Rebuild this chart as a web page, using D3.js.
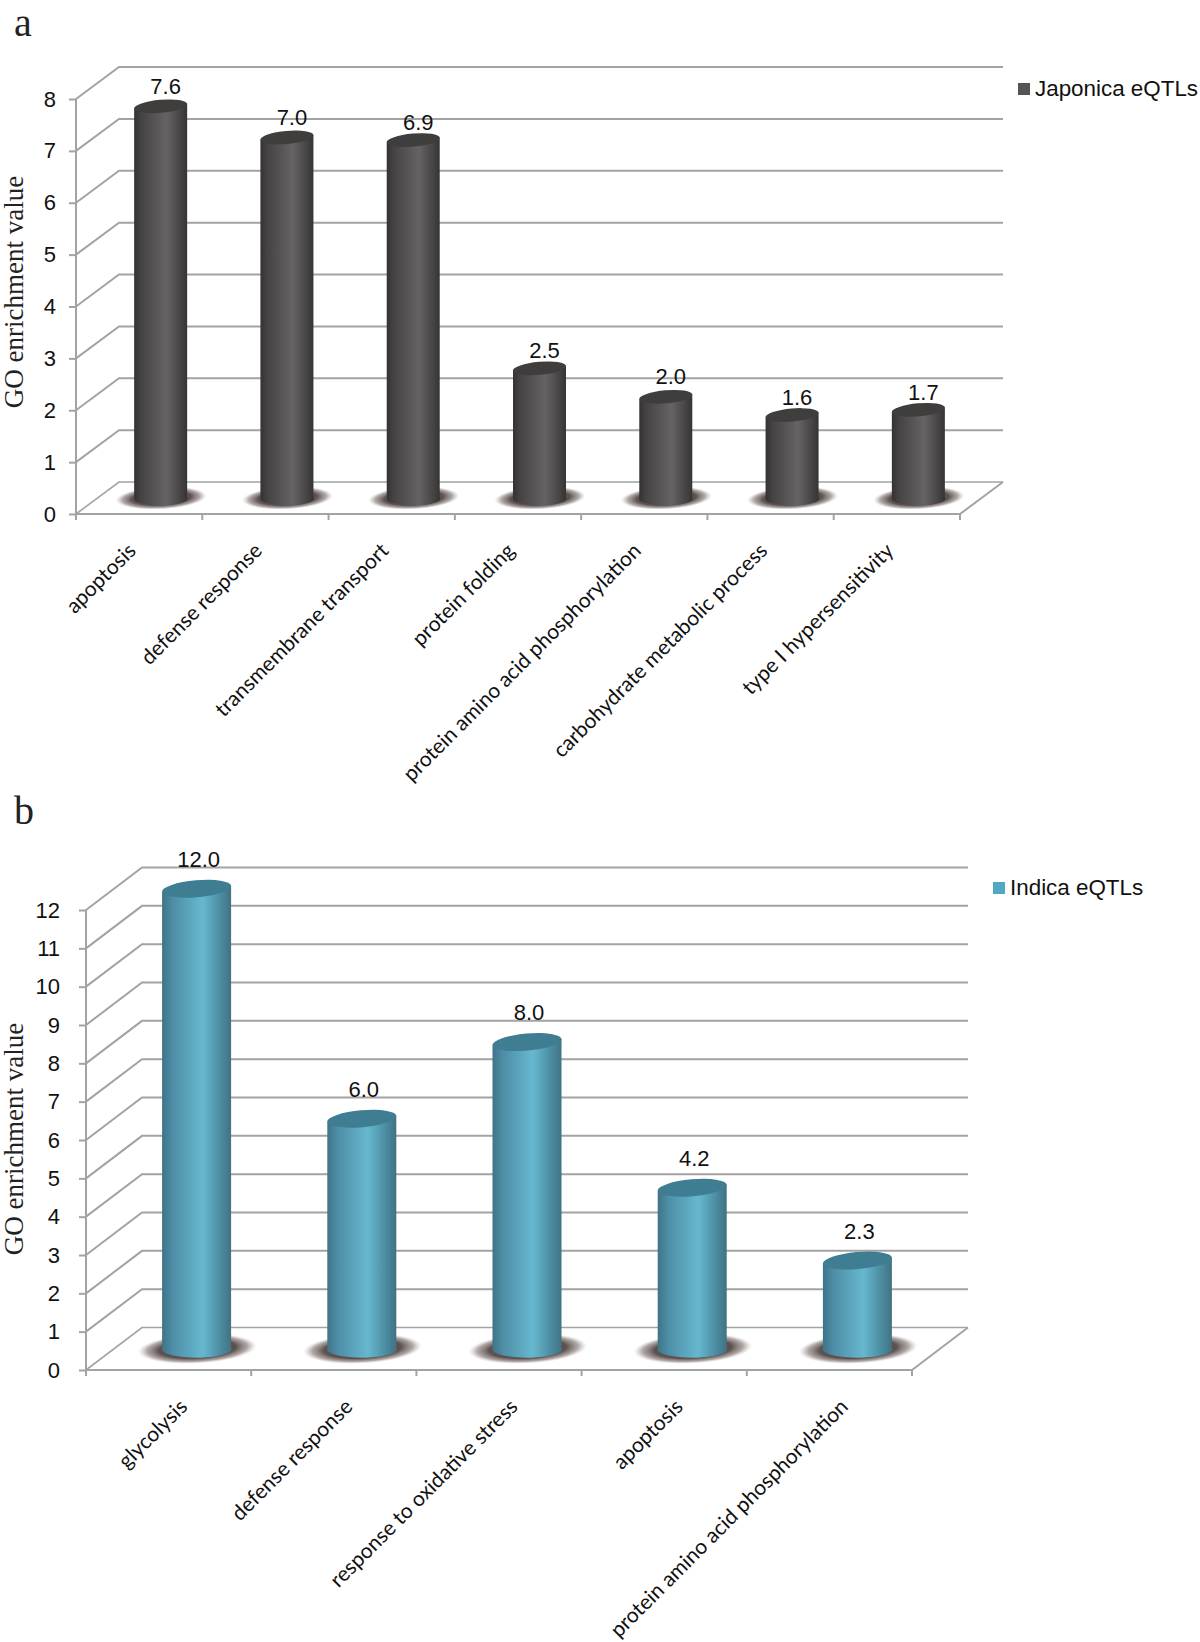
<!DOCTYPE html>
<html><head><meta charset="utf-8">
<script src="https://cdn.jsdelivr.net/npm/d3@7"></script>
<style>html,body{margin:0;background:#fff}svg{display:block}</style></head>
<body><svg id="c" width="1200" height="1642"></svg>
<script>
const catsA=["apoptosis","defense response","transmembrane transport","protein folding","protein amino acid phosphorylation","carbohydrate metabolic process","type I hypersensitivity"];
const labelsA=[7.6,7.0,6.9,2.5,2.0,1.6,1.7];
const heightsA=[7.55,6.95,6.9,2.5,1.95,1.6,1.7];
const catsB=["glycolysis","defense response","response to oxidative stress","apoptosis","protein amino acid phosphorylation"];
const labelsB=[12.0,6.0,8.0,4.2,2.3];
const heightsB=[12.0,6.0,8.0,4.2,2.3];
const svg=d3.select("#c"),defs=svg.append("defs");
function gradient(id,stops){
  const g=defs.append("linearGradient").attr("id",id);
  stops.forEach(s=>g.append("stop").attr("offset",s[0]).attr("stop-color",s[1]));
}
gradient("darkBar",[[0,"#353332"],[.12,"#444242"],[.6,"#656364"],[.88,"#444242"],[1,"#353332"]]);
gradient("tealBar",[[0,"#3f7488"],[.15,"#4d8ea6"],[.58,"#66b8cf"],[.85,"#4a8a9f"],[1,"#41707f"]]);
const sh=defs.append("radialGradient").attr("id","shadow");
[[0,"#4f4240",1],[.65,"#5e5250",1],[.85,"#8f8482",.7],[1,"#c0b8b6",0]].forEach(s=>sh.append("stop").attr("offset",s[0]).attr("stop-color",s[1]).attr("stop-opacity",s[2]));

function panel(o){
  const g=svg.append("g");
  const y=d3.scaleLinear().domain([0,o.max]).range([o.y0,o.yTop]);
  const x=d3.scaleBand().domain(o.cats).range([o.x0,o.x1]);
  const grid="#a3a3a3";
  const ticks=d3.range(0,o.max+1);
  ticks.forEach(t=>{
    g.append("path").attr("fill","none").attr("stroke",grid).attr("stroke-width",t===0?1.6:2)
     .attr("d",`M${o.x0},${y(t)}L${o.x0+o.dx},${y(t)-o.dy}H${o.x1+o.dx}`);
  });
  g.append("path").attr("fill","none").attr("stroke",grid).attr("stroke-width",2)
   .attr("d",`M${o.x0},${o.y0}H${o.x1}L${o.x1+o.dx},${o.y0-o.dy}`);
  const ax=g.append("g").attr("transform",`translate(${o.x0},0)`)
    .call(d3.axisLeft(y).tickValues(ticks).tickFormat(d3.format("d")).tickSize(7).tickPadding(o.tickPad));
  ax.select(".domain").attr("stroke",grid).attr("stroke-width",2).attr("d",`M0,${o.y0+6}V${o.yTop}`);
  ax.selectAll("line").attr("stroke",grid).attr("stroke-width",2);
  ax.selectAll("text").attr("font-family","Liberation Sans").attr("font-size",22).attr("fill","#111");
  o.cats.forEach(c=>{
    const tx=x(c)+x.step();
    g.append("line").attr("x1",tx).attr("x2",tx).attr("y1",o.y0).attr("y2",o.y0+6).attr("stroke",grid).attr("stroke-width",2);
  });
  const cx=c=>x(c)+x.step()/2+o.dx/2;
  const midY=v=>y(v)-o.dy/2;
  o.cats.forEach((c,i)=>{
    const X=cx(c),bTop=midY(o.heights[i]),b0=midY(0)+o.baseDrop;
    g.append("ellipse").attr("cx",X+o.rx*.02).attr("cy",midY(0)).attr("rx",o.rx*1.72).attr("ry",o.ry*1.75)
      .attr("transform",`rotate(-3 ${X} ${midY(0)})`).attr("fill","url(#shadow)");
    const a=o.tilt*Math.PI/180;
    g.append("path").attr("fill",`url(#${o.grad})`)
     .attr("d",`M${X-o.rx},${bTop+o.rx*Math.tan(a)}L${X-o.rx},${b0-o.ry*.2+o.rx*Math.tan(a)*.6}A${o.rx},${o.ry} 0 0 0 ${X+o.rx},${b0-o.ry*.2-o.rx*Math.tan(a)*.6}L${X+o.rx},${bTop-o.rx*Math.tan(a)}Z`);
    g.append("ellipse").attr("cx",X).attr("cy",bTop).attr("rx",o.rx*1.005).attr("ry",o.ry)
      .attr("transform",`rotate(${-o.tilt} ${X} ${bTop})`).attr("fill",o.topFill);
    g.append("text").attr("x",X+o.lblDx).attr("y",y(o.labels[i])-o.lblDy).attr("text-anchor","middle")
      .attr("font-family","Liberation Sans").attr("font-size",22).attr("fill","#111").text(o.labels[i].toFixed(1));
    const lx=x(c)+x.step()/2+o.catDx, ly=o.y0+o.catDy;
    g.append("text").attr("transform",`translate(${lx},${ly}) rotate(-45)`).attr("text-anchor","end")
      .attr("font-family","Lato").attr("font-size",o.catSize).attr("fill","#111").text(c);
  });
  g.append("text").attr("transform",`translate(${o.titleX},${o.titleY}) rotate(-90)`).attr("text-anchor","middle")
    .attr("font-family","Liberation Serif").attr("font-size",27).attr("fill","#222").text("GO enrichment value");
  g.append("rect").attr("x",o.legX).attr("y",o.legY).attr("width",12).attr("height",12).attr("fill",o.legFill);
  g.append("text").attr("x",o.legX+17).attr("y",o.legY+13).attr("font-family","Liberation Sans").attr("font-size",22.4).attr("fill","#111").text(o.legend);
  g.append("text").attr("x",o.letterX).attr("y",o.letterY).attr("font-family","Liberation Serif").attr("font-size",40).attr("fill","#222").text(o.letter);
}
panel({cats:catsA,heights:heightsA,labels:labelsA,max:8,x0:76,x1:960,y0:514,yTop:99,dx:43,dy:32,rx:26.5,ry:6.5,tilt:5,baseDrop:2,
  grad:"darkBar",topFill:"#403e3d",lblDx:5,lblDy:26,catDx:-2,catDy:38,catSize:21,titleX:23,titleY:292,tickPad:13,legX:1018,legY:83,legFill:"#555",legend:"Japonica eQTLs",letter:"a",letterX:14,letterY:36});
panel({cats:catsB,heights:heightsB,labels:labelsB,max:12,x0:86,x1:912,y0:1370,yTop:910,dx:56,dy:42.5,rx:34.5,ry:8.5,tilt:5,baseDrop:2,
  grad:"tealBar",topFill:"#3f7d92",lblDx:2,lblDy:43,catDx:20,catDy:38,catSize:21,titleX:23,titleY:1139,tickPad:19,legX:993,legY:882,legFill:"#4fa9c3",legend:"Indica eQTLs",letter:"b",letterX:14,letterY:824});
</script></body></html>
